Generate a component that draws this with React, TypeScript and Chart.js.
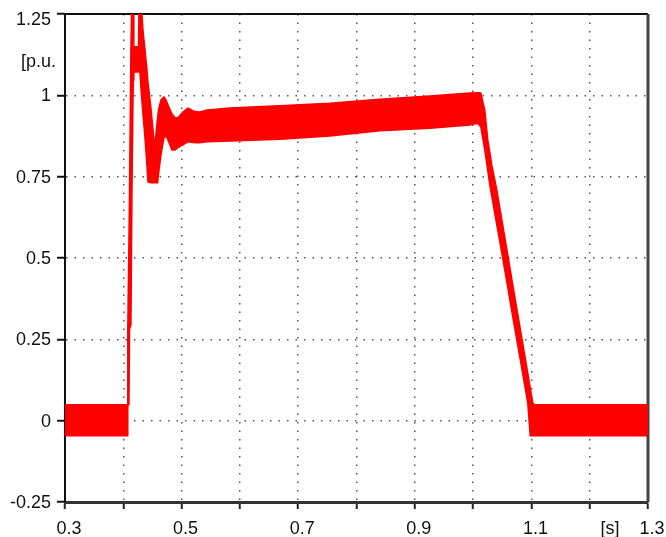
import { useEffect, useRef } from "react";
import { Chart, registerables } from "chart.js";

Chart.register(...registerables);

// Sample times [s] of the recorded quantity
const timeS = [
  0.3, 0.4068, 0.4077, 0.4097, 0.4107, 0.4131, 0.4149, 0.4166, 0.4173, 0.4181,
  0.4262, 0.4272, 0.4303, 0.4337, 0.4372, 0.4406, 0.4423, 0.4474, 0.4526, 0.4543,
  0.4572, 0.4589, 0.4603, 0.4646, 0.4697, 0.4732, 0.4766, 0.4834, 0.4886, 0.4937,
  0.5023, 0.5109, 0.5229, 0.5314, 0.5434, 0.5829, 0.6686, 0.7543, 0.84, 0.9257,
  0.9943, 1.008, 1.0132, 1.02, 1.0252, 1.0286, 1.032, 1.0406, 1.0458, 1.0578,
  1.068, 1.08, 1.0937, 1.098, 1.1023, 1.1049, 1.3,
];

// Upper envelope of the ripple band [p.u.]
const upperPu = [
  0.049, 0.049, 0.28, 0.556, 0.71, 1.149, 1.33, 1.33, 1.33, 1.149,
  1.149, 1.33, 1.3, 1.201, 1.14, 1.078, 1.041, 0.961, 0.863, 0.848,
  0.903, 0.931, 0.955, 0.986, 0.995, 0.986, 0.971, 0.943, 0.931, 0.931,
  0.949, 0.961, 0.95, 0.949, 0.955, 0.961, 0.968, 0.976, 0.988, 0.998,
  1.007, 1.008, 1.007, 0.955, 0.863, 0.826, 0.786, 0.71, 0.654, 0.528,
  0.418, 0.292, 0.147, 0.101, 0.055, 0.049, 0.049,
];

// Lower envelope of the ripple band [p.u.]
const lowerPu = [
  -0.046, -0.046, 0.049, 0.049, 0.28, 0.295, 0.71, 0.986, 1.047, 1.072,
  1.072, 1.109, 1.02, 0.943, 0.869, 0.783, 0.734, 0.731, 0.731, 0.731,
  0.731, 0.731, 0.756, 0.817, 0.869, 0.875, 0.863, 0.832, 0.832, 0.839,
  0.848, 0.857, 0.854, 0.854, 0.857, 0.86, 0.865, 0.875, 0.891, 0.899,
  0.909, 0.914, 0.903, 0.832, 0.768, 0.725, 0.69, 0.602, 0.55, 0.427,
  0.319, 0.197, 0.055, -0.046, -0.046, -0.046, -0.046,
];

// Time axis ticks; the unit label sits on its own unmarked tick
const xTickValues = [0.3, 0.4, 0.5, 0.6, 0.7, 0.8, 0.9, 1.0, 1.1, 1.2, 1.228, 1.3];
const xTickLabels = ["0.3", "", "0.5", "", "0.7", "", "0.9", "", "1.1", "", "[s]", "1.3"];
const xTickMarked = [true, true, true, true, true, true, true, true, true, true, false, true];

// Value axis ticks; unit label and top value label sit on unmarked ticks
const yTickValues = [-0.25, 0, 0.25, 0.5, 0.75, 1, 1.104, 1.236, 1.25];
const yTickLabels = ["-0.25 ", "0 ", "0.25 ", "0.5 ", "0.75 ", "1 ", "[p.u.", "1.25 ", ""];
const yTickMarked = [true, true, true, true, true, true, false, false, true];

const FONT = "'Liberation Sans', Arial, Helvetica, sans-serif";
const RED = "#ff0000";
const NONE = "rgba(0,0,0,0)";

// Closes the plot box on the top and right sides
const framePlugin = {
  id: "frame",
  beforeDatasetsDraw(chart: any) {
    const { ctx, chartArea: a } = chart;
    ctx.save();
    ctx.strokeStyle = "#111";
    ctx.lineWidth = 2;
    ctx.beginPath();
    ctx.moveTo(a.left, a.top);
    ctx.lineTo(a.right, a.top);
    ctx.stroke();
    ctx.strokeStyle = "#444";
    ctx.lineWidth = 3;
    ctx.beginPath();
    ctx.moveTo(a.right, a.top);
    ctx.lineTo(a.right, a.bottom);
    ctx.stroke();
    ctx.restore();
  },
};

export default function App() {
  const canvasRef = useRef<HTMLCanvasElement | null>(null);

  useEffect(() => {
    document.body.style.margin = "0";
    const canvas = canvasRef.current;
    if (!canvas) return;

    const upper = timeS.map((t, i) => ({ x: t, y: upperPu[i] }));
    const lower = timeS.map((t, i) => ({ x: t, y: lowerPu[i] }));

    const chart = new Chart(canvas, {
      type: "line",
      data: {
        datasets: [
          {
            data: upper,
            borderColor: RED,
            borderWidth: 1.5,
            pointRadius: 0,
            fill: false,
          },
          {
            data: lower,
            borderColor: RED,
            borderWidth: 1.5,
            pointRadius: 0,
            backgroundColor: RED,
            fill: "-1",
          },
        ],
      },
      options: {
        responsive: false,
        animation: false,
        devicePixelRatio: 1,
        layout: { padding: { top: 14, right: 18, left: 0, bottom: 0 } },
        plugins: { legend: { display: false }, tooltip: { enabled: false } },
        elements: { line: { tension: 0 } },
        scales: {
          x: {
            type: "linear",
            min: 0.3,
            max: 1.3,
            afterBuildTicks: (s: any) => {
              s.ticks = xTickValues.map((value) => ({ value }));
            },
            afterFit: (s: any) => {
              s.height = 35;
              s.paddingLeft = 0;
              s.paddingRight = 0;
            },
            ticks: {
              autoSkip: false,
              maxRotation: 0,
              minRotation: 0,
              padding: 9,
              labelOffset: 4,
              color: "#111",
              font: { family: FONT, size: 18 },
              callback: (_v: any, i: number) => xTickLabels[i],
            },
            grid: {
              color: (c: any) => (xTickMarked[c.index] ? "#555" : NONE),
              lineWidth: 1.5,
              tickLength: 7,
              tickWidth: 2,
              tickColor: (c: any) => (xTickMarked[c.index] ? "#222" : NONE),
            },
            border: { display: true, color: "#333", width: 3, dash: [1.5, 7] },
          },
          y: {
            type: "linear",
            min: -0.25,
            max: 1.25,
            afterBuildTicks: (s: any) => {
              s.ticks = yTickValues.map((value) => ({ value }));
            },
            afterFit: (s: any) => {
              s.width = 65;
              s.paddingTop = 0;
              s.paddingBottom = 0;
            },
            ticks: {
              autoSkip: false,
              padding: 1,
              labelOffset: 1,
              color: "#111",
              font: { family: FONT, size: 18 },
              callback: (_v: any, i: number) => yTickLabels[i],
            },
            grid: {
              color: (c: any) => (yTickMarked[c.index] ? "#555" : NONE),
              lineWidth: 1.5,
              tickLength: 8,
              tickWidth: 2,
              tickColor: (c: any) => (yTickMarked[c.index] ? "#111" : NONE),
            },
            border: { display: true, color: "#111", width: 2, dash: [1.5, 7] },
          },
        },
      },
      plugins: [framePlugin],
    });

    return () => chart.destroy();
  }, []);

  return (
    <div style={{ width: 666, height: 537, background: "#fff" }}>
      <canvas ref={canvasRef} width={666} height={537} style={{ display: "block" }} />
    </div>
  );
}
